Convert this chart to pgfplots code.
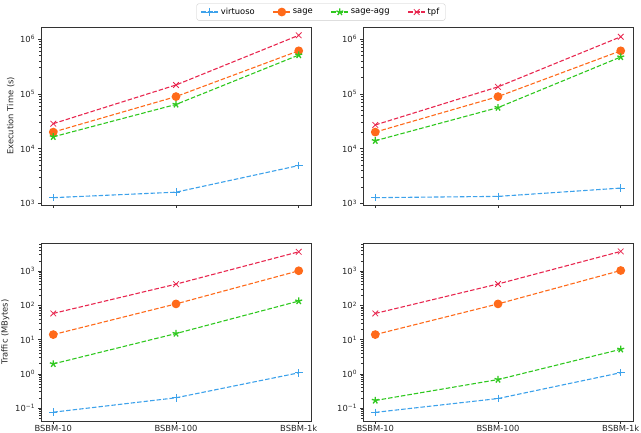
\documentclass[border=0pt]{standalone}
\usepackage{pgfplots}
\pgfplotsset{compat=1.18}
\usepackage{fontspec}
\setmainfont{DejaVu Sans}
\definecolor{cvirt}{HTML}{3DA2EB}
\definecolor{csage}{HTML}{FF6A1A}
\definecolor{cagg}{HTML}{2FC81F}
\definecolor{ctpf}{HTML}{E8274F}
\newcommand{\sz}{\fontsize{8.4}{10}\selectfont}
\tikzset{
  pvirt/.style={color=cvirt, line width=1.1bp, dash pattern=on 4.5bp off 2bp, mark=+, mark size=3.8bp, mark options={solid, line width=0.8bp}},
  psage/.style={color=csage, line width=1.1bp, dash pattern=on 4.5bp off 2bp, mark=*, mark size=3.8bp, mark options={solid, draw=csage, fill=csage}},
  pagg/.style={color=cagg, line width=1.1bp, dash pattern=on 4.5bp off 2bp, mark=star, mark size=3.6bp, mark options={solid, line width=1.3bp}},
  ptpf/.style={color=ctpf, line width=1.1bp, dash pattern=on 4.5bp off 2bp, mark=x, mark size=4bp, mark options={solid, line width=0.8bp}},
}
\pgfplotsset{
  tick align=outside, xtick pos=left, ytick pos=left,
  major tick length=3bp, minor tick length=1.8bp,
  every tick/.append style={black!80, line width=0.6bp},
  every minor tick/.append style={black!80, line width=0.5bp},
  axis line style={black!80, line width=0.7bp},
  tick label style={font=\sz, text=black!85},
  xticklabel style={inner sep=0.8bp},
  label style={font=\sz, text=black!85},
}
\begin{document}
\sz
\begin{tikzpicture}
\useasboundingbox (0bp,0bp) rectangle (641bp,433bp);
% top-left
\begin{axis}[scale only axis, width=270bp, height=178bp, anchor=south west, at={(41bp,228bp)},
  ymode=log, xmin=-0.1, xmax=2.1, xtick={0,1,2}, xticklabels={},
  ymin=933, ymax=1.66e6,
  ytick={1e3,1e4,1e5,1e6},
  yticklabels={10\textsuperscript{3},10\textsuperscript{4},10\textsuperscript{5},10\textsuperscript{6}},
  minor ytick={2000,3000,4000,5000,6000,7000,8000,9000,20000,30000,40000,50000,60000,70000,80000,90000,200000,300000,400000,500000,600000,700000,800000,900000},
  ylabel={Execution Time (s)},
  legend columns=4,
  legend style={at={(1.037,1.084)}, anchor=center, draw=black!20, rounded corners=2bp,
    font=\sz, inner xsep=4bp, inner ysep=2.5bp,
    /tikz/every even column/.append style={column sep=16bp}},
  legend cell align=left]
\addplot[pvirt] coordinates {(0,1270) (1,1600) (2,4900)};
\addplot[psage] coordinates {(0,20000) (1,89000) (2,610000)};
\addplot[pagg] coordinates {(0,16400) (1,64000) (2,510000)};
\addplot[ptpf] coordinates {(0,28500) (1,145000) (2,1170000)};
\legend{virtuoso,sage,sage-agg,tpf}
\end{axis}
% top-right
\begin{axis}[scale only axis, width=270bp, height=178bp, anchor=south west, at={(363bp,228bp)},
  ymode=log, xmin=-0.1, xmax=2.1, xtick={0,1,2}, xticklabels={},
  ymin=933, ymax=1.66e6,
  ytick={1e3,1e4,1e5,1e6},
  yticklabels={10\textsuperscript{3},10\textsuperscript{4},10\textsuperscript{5},10\textsuperscript{6}},
  minor ytick={2000,3000,4000,5000,6000,7000,8000,9000,20000,30000,40000,50000,60000,70000,80000,90000,200000,300000,400000,500000,600000,700000,800000,900000}]
\addplot[pvirt] coordinates {(0,1270) (1,1340) (2,1900)};
\addplot[psage] coordinates {(0,20000) (1,89000) (2,610000)};
\addplot[pagg] coordinates {(0,13900) (1,56000) (2,470000)};
\addplot[ptpf] coordinates {(0,27000) (1,134000) (2,1100000)};
\end{axis}
% bottom-left
\begin{axis}[scale only axis, width=270bp, height=178bp, anchor=south west, at={(41bp,12bp)},
  ymode=log, xmin=-0.1, xmax=2.1, xtick={0,1,2}, xticklabels={BSBM-10,BSBM-100,BSBM-1k},
  ymin=0.042, ymax=6600,
  ytick={0.1,1,10,100,1000},
  yticklabels={10\textsuperscript{−1},10\textsuperscript{0},10\textsuperscript{1},10\textsuperscript{2},10\textsuperscript{3}},
  minor ytick={0.05,0.06,0.07,0.08,0.09,0.2,0.3,0.4,0.5,0.6,0.7,0.8,0.9,2,3,4,5,6,7,8,9,20,30,40,50,60,70,80,90,200,300,400,500,600,700,800,900,2000,3000,4000,5000,6000},
  ylabel={Traffic (MBytes)}]
\addplot[pvirt] coordinates {(0,0.076) (1,0.2) (2,1.07)};
\addplot[psage] coordinates {(0,14) (1,110) (2,1020)};
\addplot[pagg] coordinates {(0,1.95) (1,15) (2,133)};
\addplot[ptpf] coordinates {(0,58) (1,415) (2,3650)};
\end{axis}
% bottom-right
\begin{axis}[scale only axis, width=270bp, height=178bp, anchor=south west, at={(363bp,12bp)},
  ymode=log, xmin=-0.1, xmax=2.1, xtick={0,1,2}, xticklabels={BSBM-10,BSBM-100,BSBM-1k},
  ymin=0.042, ymax=6600,
  ytick={0.1,1,10,100,1000},
  yticklabels={10\textsuperscript{−1},10\textsuperscript{0},10\textsuperscript{1},10\textsuperscript{2},10\textsuperscript{3}},
  minor ytick={0.05,0.06,0.07,0.08,0.09,0.2,0.3,0.4,0.5,0.6,0.7,0.8,0.9,2,3,4,5,6,7,8,9,20,30,40,50,60,70,80,90,200,300,400,500,600,700,800,900,2000,3000,4000,5000,6000}]
\addplot[pvirt] coordinates {(0,0.075) (1,0.19) (2,1.08)};
\addplot[psage] coordinates {(0,14) (1,110) (2,1040)};
\addplot[pagg] coordinates {(0,0.167) (1,0.68) (2,5.2)};
\addplot[ptpf] coordinates {(0,58) (1,420) (2,3750)};
\end{axis}
\end{tikzpicture}
\end{document}
